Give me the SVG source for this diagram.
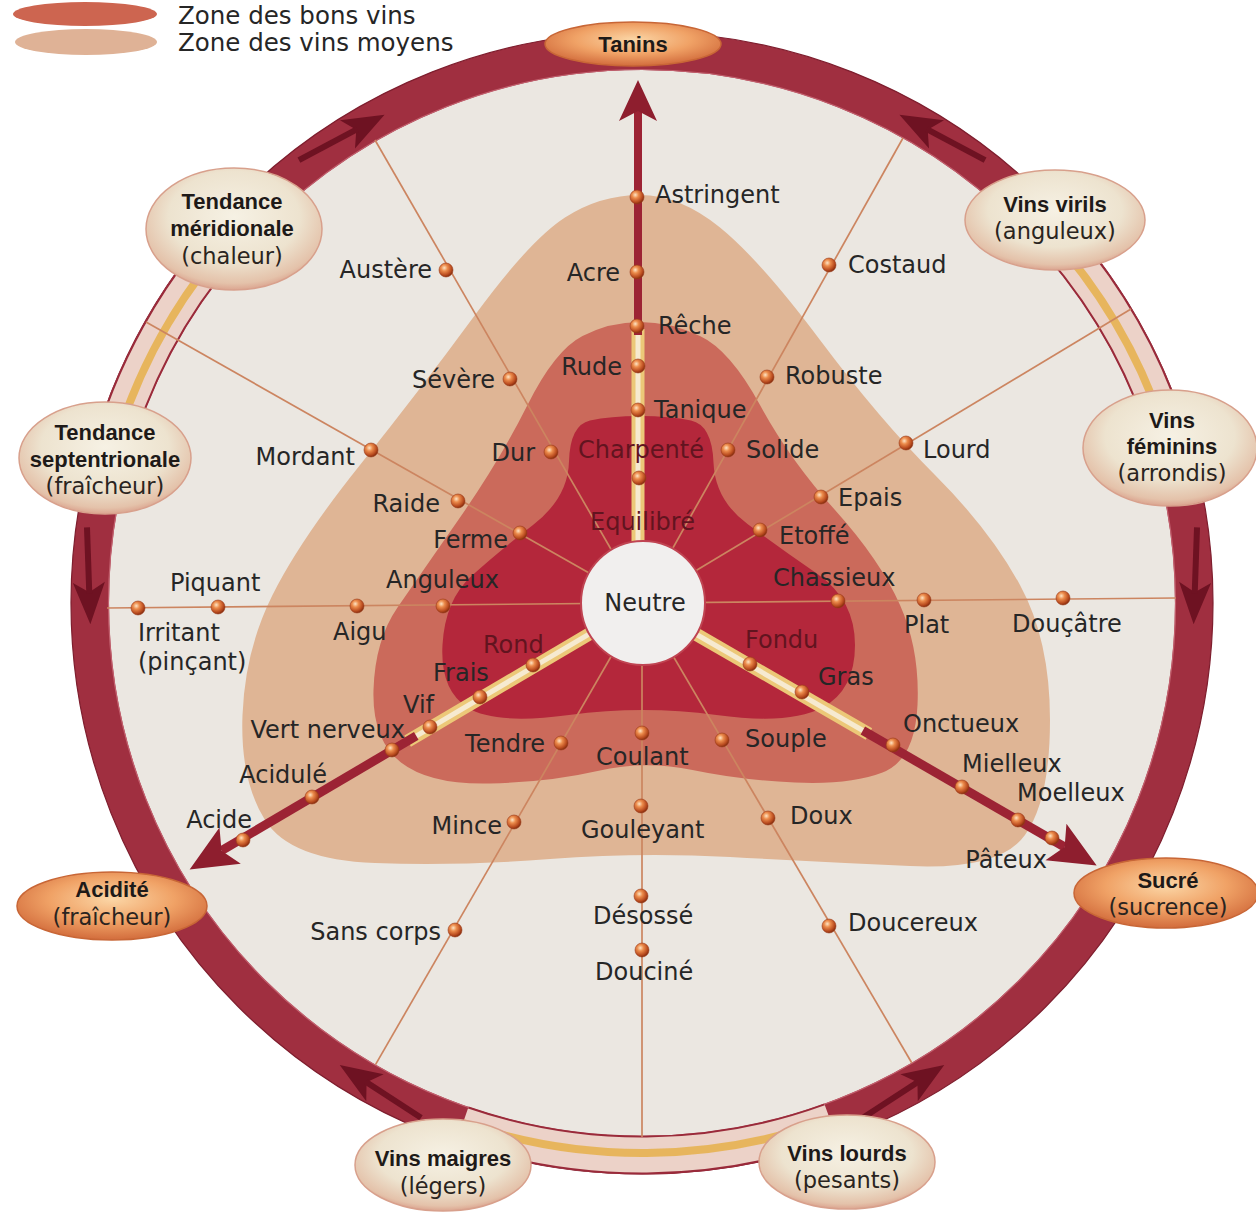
<svg xmlns="http://www.w3.org/2000/svg" xmlns:xlink="http://www.w3.org/1999/xlink" width="1256" height="1213" viewBox="0 0 1256 1213">
<defs>
<style>
.lb{font-family:"DejaVu Sans","Liberation Sans",sans-serif;font-size:24px;fill:#262626}
.lm{font-family:"DejaVu Sans","Liberation Sans",sans-serif;font-size:24px;fill:#62141f}
.e{text-anchor:end}
.tb{font-family:"Liberation Sans",Arial,sans-serif;font-weight:bold;font-size:22px;fill:#1e1a18;text-anchor:middle}
.tp{font-family:"DejaVu Sans","Liberation Sans",sans-serif;font-size:22.5px;fill:#2a2420;text-anchor:middle}
.lg{font-family:"DejaVu Sans","Liberation Sans",sans-serif;font-size:24.5px;fill:#262626}
.sp{stroke:#cc8560;stroke-width:1.7;fill:none}
.d{fill:url(#ball);stroke:#9a3a1a;stroke-width:0.6}
.cr{fill:url(#gCr);stroke:#d8a08c;stroke-width:1.5}
.or{fill:url(#gOr);stroke:#c86636;stroke-width:1.5}
</style>
<radialGradient id="ball" cx="38%" cy="35%" r="65%">
<stop offset="0" stop-color="#fde4c4"/><stop offset="0.35" stop-color="#ec8c4c"/><stop offset="0.8" stop-color="#b84a1e"/><stop offset="1" stop-color="#8a3010"/>
</radialGradient>
<radialGradient id="gOr" cx="50%" cy="40%" r="60%">
<stop offset="0" stop-color="#fbd6a6"/><stop offset="0.55" stop-color="#f0a266"/><stop offset="1" stop-color="#d26c3c"/>
</radialGradient>
<radialGradient id="gCr" cx="50%" cy="40%" r="62%">
<stop offset="0" stop-color="#f6f1e4"/><stop offset="0.6" stop-color="#ede3cf"/><stop offset="0.88" stop-color="#e4c2aa"/><stop offset="1" stop-color="#d89a86"/>
</radialGradient>
<g id="ra"><path d="M2,0 L-40,-16 L-30,0 L-40,16 Z"/><rect x="-95" y="-3" width="66" height="6"/></g>
</defs>
<rect x="0" y="0" width="1256" height="1213" fill="#ffffff"/>

<g id="legend">
<ellipse cx="85" cy="14" rx="72" ry="12" fill="#cd6550"/>
<ellipse cx="86" cy="42" rx="71" ry="13" fill="#dfb296"/>
<text class="lg" x="178" y="24">Zone des bons vins</text>
<text class="lg" x="178" y="51">Zone des vins moyens</text>
</g>

<g id="zones">
<circle cx="642" cy="603" r="534" fill="#ebe7e1"/>
<path fill="#dfb595" d="M640,195 Q680,195 720,227.5 Q760,260 820,340 Q880,420 935,475 Q990,530 1020,585 Q1050,640 1050,720 Q1050,800 1025,835 Q1000,870 910,866 Q820,862 730,857 Q640,852 550,859 Q460,866 375,863 Q290,860 265,820 Q240,780 242.5,715 Q245,650 272.5,595 Q300,540 360,465 Q420,390 475,315 Q530,240 565,217.5 Q600,195 640,195 Z"/>
<path fill="#cb6a5b" d="M640,322 Q670,322 700,336 Q730,350 760,405 Q790,460 835,510 Q880,560 900,605 Q920,650 917.5,705 Q915,760 882.5,772.5 Q850,785 795,782.5 Q740,780 692.5,770 Q645,760 597.5,771 Q550,782 490,783.5 Q430,785 401,762.5 Q372,740 373.5,690 Q375,640 397.5,607.5 Q420,575 460,517.5 Q500,460 527.5,405 Q555,350 582.5,336 Q610,322 640,322 Z"/>
<path fill="#b4273b" d="M640,416 Q670,416 691,420.5 Q712,425 713.5,462.5 Q715,500 747.5,524 Q780,548 817.5,574 Q855,600 855,645 Q855,690 822.5,707.5 Q790,725 716.5,715 Q643,705 569,715 Q495,725 467.5,707.5 Q440,690 442.5,645 Q445,600 471.5,576 Q498,552 533,525 Q568,498 569,461.5 Q570,425 590,420.5 Q610,416 640,416 Z"/>
</g>

<g id="connectors">
<g id="ring">
<circle cx="642" cy="603" r="552" fill="none" stroke="#a02f40" stroke-width="38"/>
<circle cx="642" cy="603" r="571" fill="none" stroke="#7e1e2e" stroke-width="1.2"/>
<circle cx="642" cy="603" r="533.5" fill="none" stroke="#c2606e" stroke-width="1.2"/>
<g fill="none">
<circle cx="642" cy="603" r="552" stroke="#ecd2c8" stroke-width="38" stroke-dasharray="269.8 3198.5" transform="rotate(-165 642 603)"/>
<circle cx="642" cy="603" r="552" stroke="#ecd2c8" stroke-width="38" stroke-dasharray="260.1 3208.2" transform="rotate(-43 642 603)"/>
<circle cx="642" cy="603" r="552" stroke="#ecd2c8" stroke-width="38" stroke-dasharray="375.7 3092.6" transform="rotate(70 642 603)"/>
<circle cx="642" cy="603" r="550" stroke="#e6b04a" stroke-width="8" stroke-opacity="0.85" stroke-dasharray="268.8 3187" transform="rotate(-165 642 603)"/>
<circle cx="642" cy="603" r="550" stroke="#e6b04a" stroke-width="8" stroke-opacity="0.85" stroke-dasharray="259.2 3196.6" transform="rotate(-43 642 603)"/>
<circle cx="642" cy="603" r="550" stroke="#e6b04a" stroke-width="8" stroke-opacity="0.85" stroke-dasharray="374.4 3081.4" transform="rotate(70 642 603)"/>
<circle cx="642" cy="603" r="533.5" stroke="#9a2a3a" stroke-width="2" stroke-dasharray="260.7 3091.4" transform="rotate(-165 642 603)"/>
<circle cx="642" cy="603" r="533.5" stroke="#9a2a3a" stroke-width="2" stroke-dasharray="251.4 3100.7" transform="rotate(-43 642 603)"/>
<circle cx="642" cy="603" r="533.5" stroke="#9a2a3a" stroke-width="2" stroke-dasharray="363.1 2989" transform="rotate(70 642 603)"/>
<circle cx="642" cy="603" r="570.5" stroke="#9a2a3a" stroke-width="2" stroke-dasharray="278.8 3305.8" transform="rotate(-165 642 603)"/>
<circle cx="642" cy="603" r="570.5" stroke="#9a2a3a" stroke-width="2" stroke-dasharray="268.8 3315.8" transform="rotate(-43 642 603)"/>
<circle cx="642" cy="603" r="570.5" stroke="#9a2a3a" stroke-width="2" stroke-dasharray="388.3 3196.3" transform="rotate(70 642 603)"/>
</g>
<g fill="#6e1222">
<use href="#ra" transform="translate(382.8,115.6) rotate(-28)"/>
<use href="#ra" transform="translate(901.2,115.6) rotate(-152)"/>
<use href="#ra" transform="translate(90.3,622.3) rotate(88)"/>
<use href="#ra" transform="translate(1193.7,622.3) rotate(92)"/>
<use href="#ra" transform="translate(341.4,1066) rotate(213)"/>
<use href="#ra" transform="translate(942.6,1066) rotate(-33)"/>
</g>
</g>
<g id="spokes" class="sp">
<line x1="642" y1="603" x2="375" y2="140"/>
<line x1="642" y1="603" x2="903" y2="138"/>
<line x1="642" y1="603" x2="146" y2="322"/>
<line x1="642" y1="603" x2="1131" y2="309"/>
<line x1="107" y1="608" x2="1176" y2="598"/>
<line x1="642" y1="603" x2="911.7" y2="1062.7"/>
<line x1="642" y1="603" x2="642" y2="1137"/>
<line x1="642" y1="603" x2="375.5" y2="1064.6"/>
</g>
<g id="axes">
<g transform="translate(638,603) rotate(-90)">
<line x1="60" y1="0" x2="274" y2="0" stroke="#ecc878" stroke-width="13"/>
<line x1="60" y1="0" x2="274" y2="0" stroke="#f6ead0" stroke-width="5"/>
<line x1="268" y1="0" x2="492" y2="0" stroke="#9c2334" stroke-width="8"/>
<path d="M523,0 L482,-19 L492,0 L482,19 Z" fill="#8e1e2e"/>
</g>
<g transform="translate(642,603) rotate(149.5)">
<line x1="60" y1="0" x2="272" y2="0" stroke="#ecc878" stroke-width="13"/>
<line x1="60" y1="0" x2="272" y2="0" stroke="#f6ead0" stroke-width="5"/>
<line x1="262" y1="0" x2="488" y2="0" stroke="#9c2334" stroke-width="9"/>
<path d="M525,0 L478,-21 L488,0 L478,21 Z" fill="#8e1e2e"/>
</g>
<g transform="translate(642,603) rotate(30)">
<line x1="60" y1="0" x2="262" y2="0" stroke="#ecc878" stroke-width="13"/>
<line x1="60" y1="0" x2="262" y2="0" stroke="#f6ead0" stroke-width="5"/>
<line x1="255" y1="0" x2="488" y2="0" stroke="#9c2334" stroke-width="9"/>
<path d="M525,0 L478,-21 L488,0 L478,21 Z" fill="#8e1e2e"/>
</g>
</g>
</g>

<g id="neutre">
<circle cx="643" cy="603" r="62" fill="#f1efee" stroke="#c04452" stroke-width="2"/>
<text class="lb" x="645" y="611" text-anchor="middle">Neutre</text>
</g>

<g id="tanins"><ellipse class="or" cx="633" cy="44" rx="88" ry="22"/><text class="tb" x="633" y="52">Tanins</text></g>
<g id="tendance-meridionale"><ellipse class="cr" cx="234" cy="229" rx="88" ry="61"/><text class="tb" x="232" y="209">Tendance</text><text class="tb" x="232" y="236">méridionale</text><text class="tp" x="232" y="264">(chaleur)</text></g>
<g id="vins-virils"><ellipse class="cr" cx="1055" cy="220" rx="90" ry="50"/><text class="tb" x="1055" y="212">Vins virils</text><text class="tp" x="1055" y="239">(anguleux)</text></g>
<g id="tendance-septentrionale"><ellipse class="cr" cx="105" cy="458" rx="86" ry="56"/><text class="tb" x="105" y="440">Tendance</text><text class="tb" x="105" y="467">septentrionale</text><text class="tp" x="105" y="494">(fraîcheur)</text></g>
<g id="vins-feminins"><ellipse class="cr" cx="1170" cy="448" rx="87" ry="58"/><text class="tb" x="1172" y="428">Vins</text><text class="tb" x="1172" y="454">féminins</text><text class="tp" x="1172" y="481">(arrondis)</text></g>
<g id="acidite"><ellipse class="or" cx="112" cy="906" rx="95" ry="34"/><text class="tb" x="112" y="897">Acidité</text><text class="tp" x="112" y="925">(fraîcheur)</text></g>
<g id="sucre"><ellipse class="or" cx="1166" cy="893" rx="92" ry="35"/><text class="tb" x="1168" y="888">Sucré</text><text class="tp" x="1168" y="915">(sucrence)</text></g>
<g id="vins-maigres"><ellipse class="cr" cx="443" cy="1165" rx="88" ry="46"/><text class="tb" x="443" y="1166">Vins maigres</text><text class="tp" x="443" y="1194">(légers)</text></g>
<g id="vins-lourds"><ellipse class="cr" cx="847" cy="1162" rx="88" ry="47"/><text class="tb" x="847" y="1161">Vins lourds</text><text class="tp" x="847" y="1188">(pesants)</text></g>

<g id="astringent"><circle class="d" cx="637" cy="197" r="7"/><text class="lb" x="655" y="203">Astringent</text></g>
<g id="acre"><circle class="d" cx="637" cy="272" r="7"/><text class="lb e" x="620" y="281">Acre</text></g>
<g id="reche"><circle class="d" cx="637" cy="326" r="7"/><text class="lb" x="658" y="334">Rêche</text></g>
<g id="rude"><circle class="d" cx="638" cy="366" r="7"/><text class="lb e" x="622" y="375">Rude</text></g>
<g id="tanique"><circle class="d" cx="638" cy="410" r="7"/><text class="lb" x="654" y="418">Tanique</text></g>
<g id="charpente"><circle class="d" cx="639" cy="478" r="7"/><text class="lm" x="578" y="458">Charpenté</text></g>
<g id="equilibre"><text class="lm" x="590" y="530">Equilibré</text></g>
<g id="austere"><circle class="d" cx="446" cy="270" r="7"/><text class="lb e" x="432" y="278">Austère</text></g>
<g id="severe"><circle class="d" cx="510" cy="379" r="7"/><text class="lb e" x="495" y="388">Sévère</text></g>
<g id="dur"><circle class="d" cx="551" cy="452" r="7"/><text class="lb e" x="535" y="461">Dur</text></g>
<g id="costaud"><circle class="d" cx="829" cy="265" r="7"/><text class="lb" x="848" y="273">Costaud</text></g>
<g id="robuste"><circle class="d" cx="767" cy="377" r="7"/><text class="lb" x="785" y="384">Robuste</text></g>
<g id="solide"><circle class="d" cx="728" cy="450" r="7"/><text class="lb" x="746" y="458">Solide</text></g>
<g id="mordant"><circle class="d" cx="371" cy="450" r="7"/><text class="lb e" x="355" y="465">Mordant</text></g>
<g id="raide"><circle class="d" cx="458" cy="501" r="7"/><text class="lb e" x="440" y="512">Raide</text></g>
<g id="ferme"><circle class="d" cx="520" cy="533" r="7"/><text class="lb e" x="508" y="548">Ferme</text></g>
<g id="lourd"><circle class="d" cx="906" cy="443" r="7"/><text class="lb" x="923" y="458">Lourd</text></g>
<g id="epais"><circle class="d" cx="821" cy="497" r="7"/><text class="lb" x="838" y="506">Epais</text></g>
<g id="etoffe"><circle class="d" cx="760" cy="530" r="7"/><text class="lb" x="779" y="544">Etoffé</text></g>
<g id="irritant"><circle class="d" cx="138" cy="608" r="7"/><text class="lb" x="138" y="641">Irritant</text><text class="lb" x="138" y="670">(pinçant)</text></g>
<g id="piquant"><circle class="d" cx="218" cy="607" r="7"/><text class="lb" x="170" y="591">Piquant</text></g>
<g id="aigu"><circle class="d" cx="357" cy="606" r="7"/><text class="lb" x="333" y="640">Aigu</text></g>
<g id="anguleux"><circle class="d" cx="443" cy="606" r="7"/><text class="lb" x="386" y="588">Anguleux</text></g>
<g id="chassieux"><circle class="d" cx="838" cy="601" r="7"/><text class="lb" x="773" y="586">Chassieux</text></g>
<g id="plat"><circle class="d" cx="924" cy="600" r="7"/><text class="lb" x="904" y="633">Plat</text></g>
<g id="doucatre"><circle class="d" cx="1063" cy="598" r="7"/><text class="lb" x="1012" y="632">Douçâtre</text></g>
<g id="rond"><circle class="d" cx="533" cy="665" r="7"/><text class="lm" x="483" y="653">Rond</text></g>
<g id="frais"><circle class="d" cx="480" cy="697" r="7"/><text class="lb" x="433" y="681">Frais</text></g>
<g id="vif"><circle class="d" cx="430" cy="727" r="7"/><text class="lb" x="403" y="713">Vif</text></g>
<g id="vert-nerveux"><circle class="d" cx="392" cy="750" r="7"/><text class="lb e" x="405" y="738">Vert nerveux</text></g>
<g id="acidule"><circle class="d" cx="312" cy="797" r="7"/><text class="lb e" x="327" y="783">Acidulé</text></g>
<g id="acide"><circle class="d" cx="243" cy="840" r="7"/><text class="lb e" x="252" y="828">Acide</text></g>
<g id="fondu"><circle class="d" cx="750" cy="664" r="7"/><text class="lm" x="745" y="648">Fondu</text></g>
<g id="gras"><circle class="d" cx="802" cy="692" r="7"/><text class="lb" x="818" y="685">Gras</text></g>
<g id="onctueux"><circle class="d" cx="893" cy="745" r="7"/><text class="lb" x="903" y="732">Onctueux</text></g>
<g id="mielleux"><circle class="d" cx="962" cy="787" r="7"/><text class="lb" x="962" y="772">Mielleux</text></g>
<g id="moelleux"><circle class="d" cx="1018" cy="820" r="7"/><text class="lb" x="1017" y="801">Moelleux</text></g>
<g id="pateux"><circle class="d" cx="1052" cy="838" r="7"/><text class="lb e" x="1047" y="868">Pâteux</text></g>
<g id="tendre"><circle class="d" cx="561" cy="743" r="7"/><text class="lb e" x="545" y="752">Tendre</text></g>
<g id="coulant"><circle class="d" cx="642" cy="733" r="7"/><text class="lb" x="596" y="765">Coulant</text></g>
<g id="souple"><circle class="d" cx="722" cy="740" r="7"/><text class="lb" x="745" y="747">Souple</text></g>
<g id="mince"><circle class="d" cx="514" cy="822" r="7"/><text class="lb e" x="502" y="834">Mince</text></g>
<g id="gouleyant"><circle class="d" cx="641" cy="806" r="7"/><text class="lb" x="581" y="838">Gouleyant</text></g>
<g id="doux"><circle class="d" cx="768" cy="818" r="7"/><text class="lb" x="790" y="824">Doux</text></g>
<g id="sans-corps"><circle class="d" cx="455" cy="930" r="7"/><text class="lb e" x="441" y="940">Sans corps</text></g>
<g id="desosse"><circle class="d" cx="641" cy="896" r="7"/><text class="lb" x="593" y="924">Désossé</text></g>
<g id="doucereux"><circle class="d" cx="829" cy="926" r="7"/><text class="lb" x="848" y="931">Doucereux</text></g>
<g id="doucine"><circle class="d" cx="642" cy="950" r="7"/><text class="lb" x="595" y="980">Douciné</text></g>
</svg>
